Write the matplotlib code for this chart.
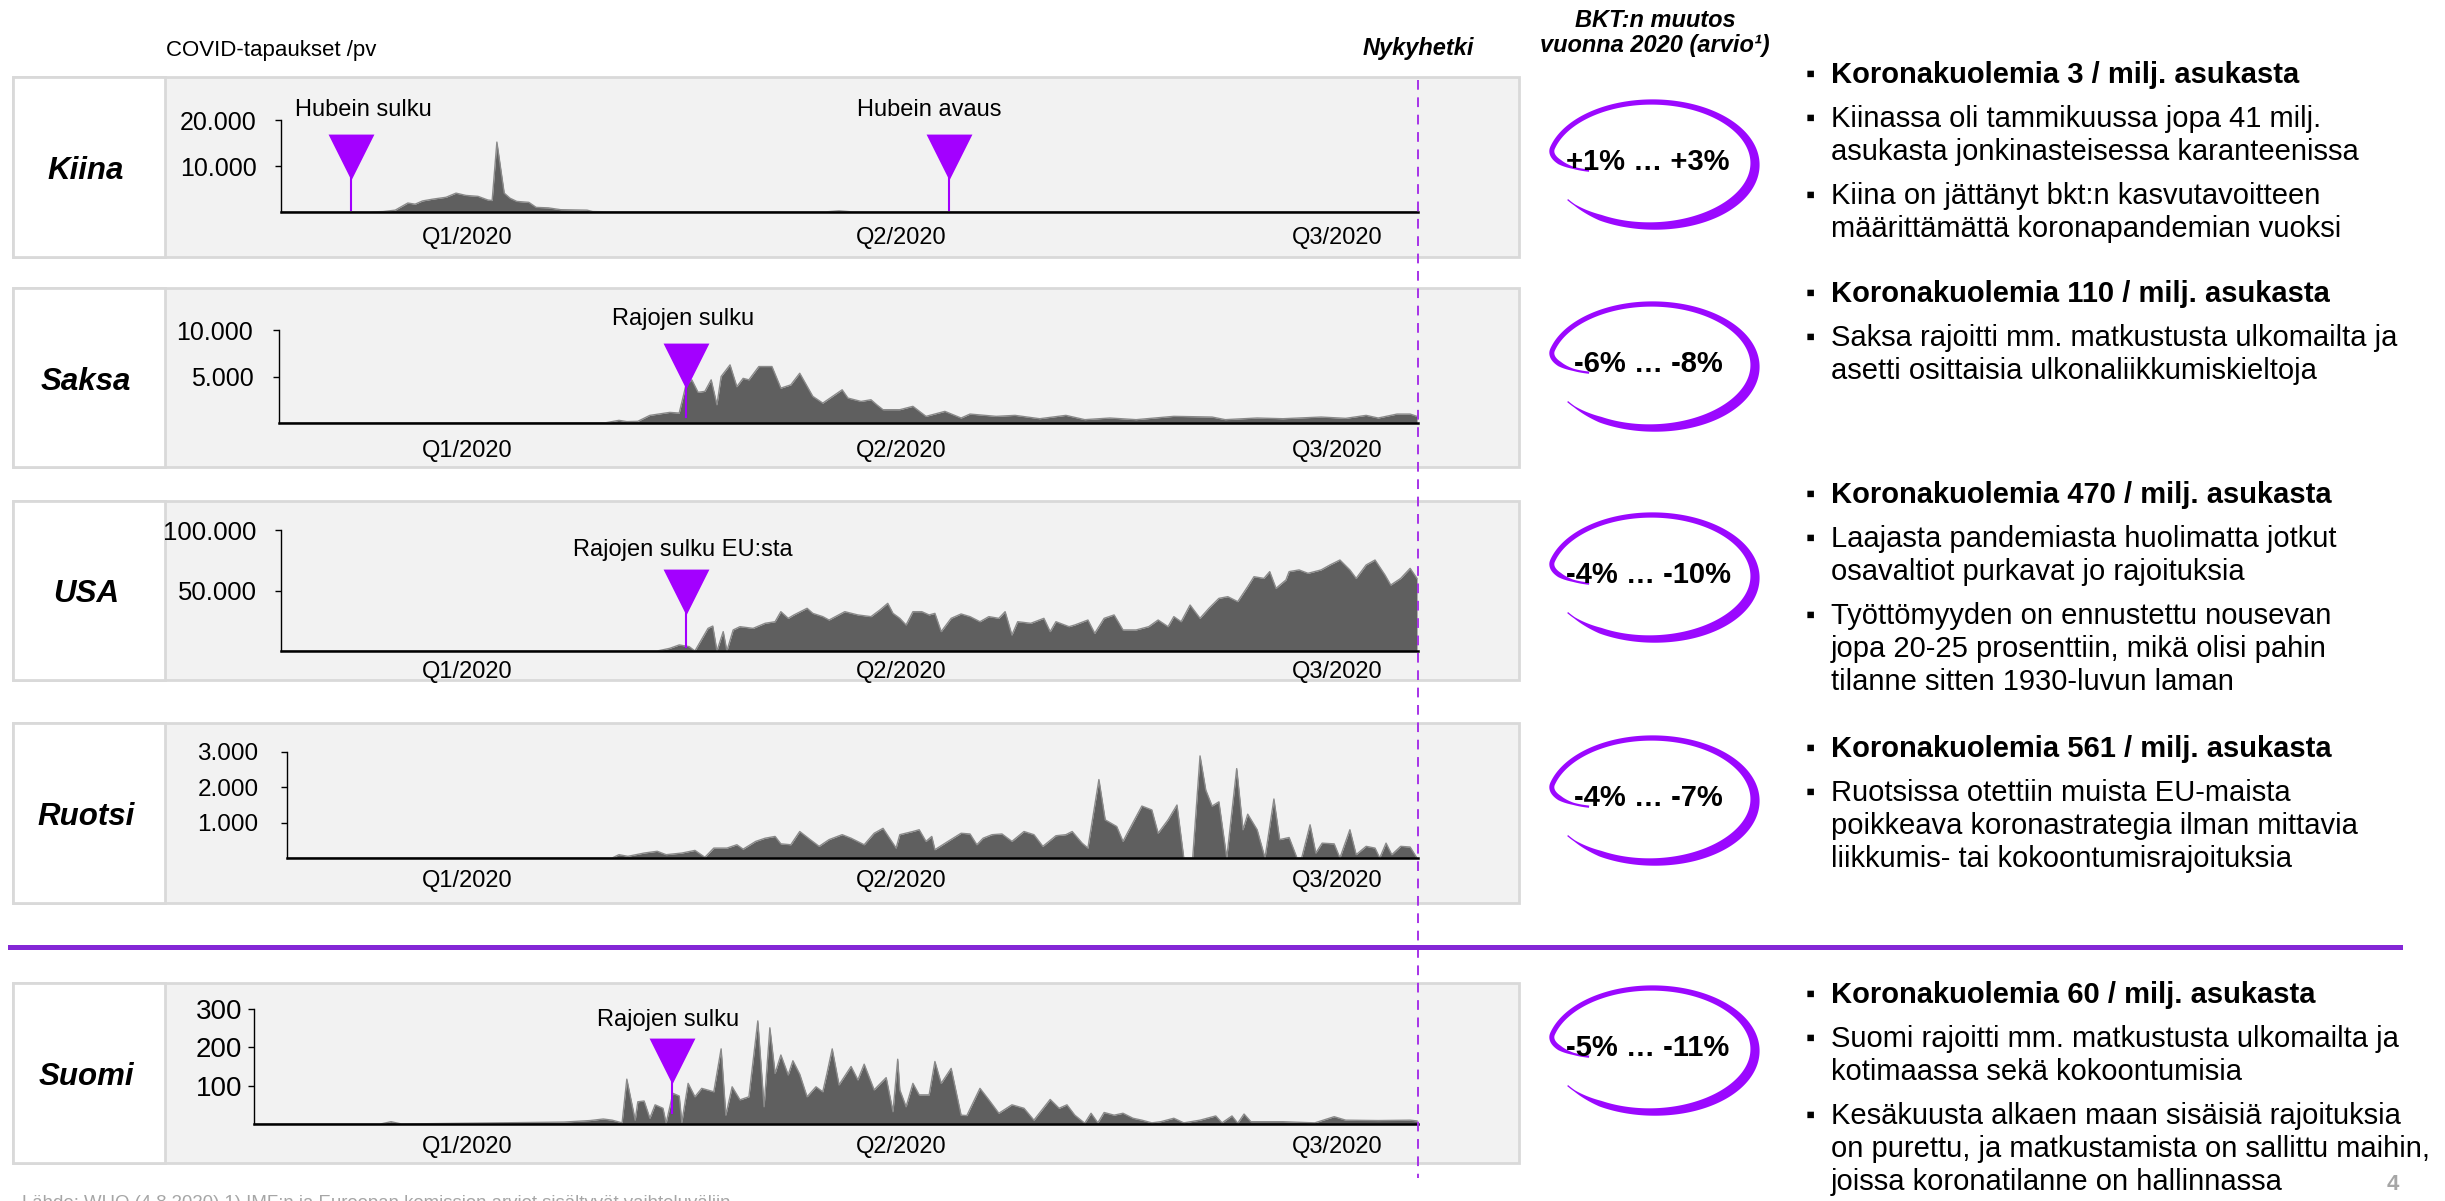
import numpy as np
import matplotlib
matplotlib.use("Agg")
import matplotlib.pyplot as plt
from matplotlib.patches import Rectangle, Polygon
from matplotlib.lines import Line2D
from matplotlib.path import Path
from matplotlib.ticker import FuncFormatter
from matplotlib.transforms import blended_transform_factory

plt.rcParams["font.family"] = ["Liberation Sans", "DejaVu Sans"]
plt.rcParams["lines.scale_dashes"] = False

# ── DATA ──────────────────────────────────────────────────────────────────────
# päivä = päiviä aikajanan alusta (217 = nykyhetki, 4.8.2020)
maat = ["Kiina", "Saksa", "USA", "Ruotsi", "Suomi"]

kiina_paiva = [0, 17, 19.5, 21.8, 24.2, 25.6, 27, 29, 31.5, 33.4, 35.3, 37.6, 39.5, 40.3,
               41.2, 42.6, 43.7, 45, 47.3, 48.7, 51, 53.4, 58.4, 59.5, 62, 104, 106.5, 109, 217]
kiina_tapaukset = [0, 0, 100, 400, 1950, 1700, 2400, 2800, 3200, 4100, 3600, 3400, 2600, 2500,
                   15200, 4100, 3000, 2300, 2100, 1000, 900, 500, 400, 100, 50, 30, 250, 30, 20]

saksa_paiva = [0, 62, 64.5, 66, 68.1, 70.4, 74.2, 76, 77.3, 78.4, 79.6, 80.9, 82.1, 83.2, 84,
               85.7, 87, 88.2, 89.3, 91.2, 93.7, 95.4, 97.3, 99, 101.5, 103.4, 107.1, 108.2,
               110.7, 112.6, 113.7, 114.9, 118.1, 120.6, 123.1, 126.7, 129.8, 131.5, 136.5,
               140.1, 144.8, 149.8, 153.4, 158.2, 163.2, 170.4, 177.7, 180.2, 186.3, 191.2,
               198.5, 203.2, 207.1, 209.4, 213, 215.5, 216.8]
saksa_tapaukset = [0, 30, 285, 150, 180, 820, 1140, 1070, 4100, 4640, 3300, 3400, 4640, 1960, 5000,
                   6250, 3900, 4800, 4640, 6070, 6070, 3750, 4100, 5350, 2860, 2140, 3570, 2680,
                   2320, 2500, 1960, 1430, 1430, 1790, 714, 1250, 535, 960, 714,
                   820, 460, 820, 360, 535, 360, 714, 640, 360, 535, 460,
                   640, 500, 820, 535, 960, 960, 714]

usa_paiva = [0, 71.8, 74.2, 76, 77.9, 79, 81.5, 82.4, 83.2, 84.4, 85.1, 86.3, 87.6, 90.1, 92.4,
             94.3, 95.4, 96.8, 97.9, 100.4, 101.5, 103.4, 104.6, 107.6, 110.1, 112.6, 114.3,
             115.8, 116.8, 118.1, 119.3, 120.6, 122.3, 123.7, 124.8, 126, 127.9, 129.8, 131.5,
             133.4, 135.1, 137, 138.2, 139.5, 140.6, 143.1, 145.6, 146.8, 147.9, 150.4, 151.5,
             154, 155.3, 157.1, 159, 160.7, 163.2, 165.6, 167.4, 169.3, 170.4, 171.8, 173.5,
             175.4, 177.1, 179, 180.7, 182.6, 184.5, 185.7, 187.6, 188.7, 189.9, 191.8, 192.4,
             194.3, 196, 198.5, 200.2, 202.1, 204, 205.2, 207.1, 208.8, 210.7, 211.8, 213.7,
             215.5, 216.8]
usa_tapaukset = [0, 0, 2200, 5000, 3600, 0, 18700, 20600, 0, 16000, 0, 17400, 20100, 18700, 22900,
                 24200, 32500, 27000, 29800, 35300, 31100, 28400, 25600, 32500, 29800, 28400, 33900,
                 39400, 31100, 27000, 21500, 32500, 32500, 29800, 31100, 16000, 27000, 30600, 28400,
                 24200, 28400, 27000, 32500, 13200, 24200, 22900, 27000, 16000, 24200, 20100, 21500,
                 25600, 14600, 27000, 29800, 17400, 17400, 20100, 25600, 20100, 28400, 24200, 38000,
                 27000, 35300, 43500, 44900, 40800, 53200, 61400, 60000, 65600, 51800, 58700, 65600,
                 67000, 64200, 67000, 71100, 75200, 67000, 60000, 71100, 75200, 62800, 54500, 60000,
                 68300, 60000]

ruotsi_paiva = [1.1, 63.2, 64.5, 66.2, 69.3, 71.8, 73.5, 76.5, 79, 80.9, 82.6, 85.1, 87, 88.2,
                90.6, 92.4, 94.3, 95.4, 97.3, 99, 101, 102.7, 104.6, 107.1, 108.8, 111.3, 113.2,
                114.9, 117.4, 118.1, 120.6, 121.8, 123.1, 124.2, 124.8, 127.3, 129.8, 131.5,
                132.8, 134, 135.7, 137.6, 139.5, 141.8, 143.7, 145.4, 147.9, 149.8, 151, 152.9,
                154, 156.1, 157.3, 159.5, 160.7, 162.2, 164.3, 166.2, 167.4, 169.3, 171, 172.3,
                174, 175.4, 176.5, 177.7, 179, 180.5, 182.4, 183.6, 184.5, 186.3, 187.8, 189.5,
                190.6, 192.4, 193.9, 194.8, 196.4, 197.5, 198.7, 201, 202.1, 204, 205.2, 207.1,
                208.8, 209.7, 210.9, 212, 213.7, 215.5, 216.8]
ruotsi_tapaukset = [0, 0, 94, 47, 140, 190, 94, 140, 215, 20, 280, 280, 375, 250,
                    470, 560, 610, 400, 375, 750, 520, 330, 520, 660, 560, 375, 700,
                    840, 280, 660, 750, 800, 470, 610, 235, 470, 700, 680,
                    375, 560, 660, 680, 470, 750, 660, 330, 630, 660, 750, 420,
                    280, 2220, 1080, 890, 470, 890, 1470, 1360, 700, 1080, 1500, 0,
                    0, 2890, 1920, 1470, 1590, 0, 2530, 800, 1240, 800, 0, 1670,
                    520, 580, 0, 0, 940, 140, 420, 400, 0, 800, 94, 330,
                    280, 0, 420, 94, 330, 310, 0]

suomi_paiva = [-5.2, 19, 21, 23, 54, 59, 61.5, 63.2, 65.1, 66, 67.6, 68.1, 69.3, 70.4, 71.4,
               72.9, 73.5, 74.8, 76, 76.5, 77.7, 79, 80.3, 82.6, 84, 84.9, 86.1, 87.6, 89.3, 91,
               92.2, 93.3, 94.3, 95.4, 96.8, 97.7, 99, 100.4, 102.1, 103.4, 104.2, 105.2, 106.5,
               108.8, 110.1, 111.3, 113.2, 115.5, 116.8, 117.7, 118.1, 119.3, 120.6, 121.8,
               123.7, 124.8, 126, 127.9, 129.8, 130.9, 133.4, 135.1, 137, 139.5, 141.8, 143.7,
               146.8, 148.5, 150, 151.5, 153.4, 154.6, 155.9, 157.1, 159, 160.7, 162.6, 164.3,
               166.2, 167.9, 170.4, 172.3, 175.4, 178.4, 179.6, 181.5, 182.6, 183.8, 185.1,
               191.2, 197.3, 201, 203.2, 209.4, 215.5, 216.8]
suomi_tapaukset = [0, 0, 6, 0, 5, 9, 13, 10, 3, 117, 10, 58, 60, 15, 50,
                   41, 2, 80, 73, 4, 106, 71, 93, 84, 196, 23, 97, 63, 71, 269,
                   45, 251, 132, 180, 128, 165, 130, 71, 97, 84, 132, 196, 102,
                   150, 115, 156, 89, 121, 32, 169, 89, 45, 106, 76,
                   76, 163, 106, 145, 23, 22, 93, 63, 28, 50, 41, 10,
                   64, 41, 50, 23, 2, 28, 3, 30, 23, 28, 15, 10,
                   3, 6, 15, 3, 10, 21, 3, 21, 2, 26, 6,
                   6, 3, 19, 10, 9, 10, 8]

y_max = [20000, 10000, 100000, 3000, 300]
y_ticks = [[10000, 20000], [5000, 10000], [50000, 100000], [1000, 2000, 3000], [100, 200, 300]]

# vuosineljännesten nimiöt aikajanalla (päivää alusta)
q_paiva = [35.5, 118.3, 201.5]
q_nimi = ["Q1/2020", "Q2/2020", "Q3/2020"]

tapahtumat = [
    [(13.4, "Hubein sulku"), (127.5, "Hubein avaus")],
    [(77.3, "Rajojen sulku")],
    [(77.3, "Rajojen sulku EU:sta")],
    [],
    [(74.6, "Rajojen sulku")],
]

bkt_muutos = ["+1% … +3%", "-6% … -8%", "-4% … -10%", "-4% … -7%", "-5% … -11%"]
kuolemat = [3, 110, 470, 561, 60]

huomiot = [
    [["Kiinassa oli tammikuussa jopa 41 milj.", "asukasta jonkinasteisessa karanteenissa"],
     ["Kiina on jättänyt bkt:n kasvutavoitteen", "määrittämättä koronapandemian vuoksi"]],
    [["Saksa rajoitti mm. matkustusta ulkomailta ja", "asetti osittaisia ulkonaliikkumiskieltoja"]],
    [["Laajasta pandemiasta huolimatta jotkut", "osavaltiot purkavat jo rajoituksia"],
     ["Työttömyyden on ennustettu nousevan", "jopa 20-25 prosenttiin, mikä olisi pahin",
      "tilanne sitten 1930-luvun laman"]],
    [["Ruotsissa otettiin muista EU-maista", "poikkeava koronastrategia ilman mittavia",
      "liikkumis- tai kokoontumisrajoituksia"]],
    [["Suomi rajoitti mm. matkustusta ulkomailta ja", "kotimaassa sekä kokoontumisia"],
     ["Kesäkuusta alkaen maan sisäisiä rajoituksia", "on purettu, ja matkustamista on sallittu maihin,",
      "joissa koronatilanne on hallinnassa"]],
]

paivat = [kiina_paiva, saksa_paiva, usa_paiva, ruotsi_paiva, suomi_paiva]
tapaukset = [kiina_tapaukset, saksa_tapaukset, usa_tapaukset, ruotsi_tapaukset, suomi_tapaukset]

# ── LAYOUT (pixels on the 2445 x 1201 canvas) ────────────────────────────────
W, H = 2445, 1201
X0, X_END, DAY_END = 281, 1418, 217
PX_PER_DAY = (X_END - X0) / DAY_END

PANELS = [
    dict(box=(77, 257), left=281, top=120, base=212, ypad=13, ysize=18, xpad=11,
         tri=134, stem=210, lab=110, lab_dx=[12, -20], ring=164, text=73),
    dict(box=(288, 467), left=279, top=330, base=423, ypad=14, ysize=18, xpad=12,
         tri=343, stem=417, lab=319, lab_dx=[-3], ring=366, text=292),
    dict(box=(501, 680), left=281, top=530, base=651, ypad=13, ysize=18.5, xpad=7,
         tri=569, stem=647, lab=550, lab_dx=[-3], ring=577, text=493),
    dict(box=(723, 903), left=287, top=752, base=858, ypad=16, ysize=17.5, xpad=9,
         tri=None, stem=None, lab=None, lab_dx=[], ring=800, text=747),
    dict(box=(983, 1163), left=254, top=1009, base=1124, ypad=4, ysize=20, xpad=9,
         tri=1038, stem=1113, lab=1020, lab_dx=[-4], ring=1050, text=993),
]

VIOLET = "#a300ff"
RING = "#9b08ff"
DASH = "#a633e8"
SEPARATOR = "#8427d6"
FILL = "#5f5f5f"
EDGE = "#8a8a8a"
BOX = "#f2f2f2"
BORDER = "#d9d9d9"


def fx(x):
    return x / W


def fy(y):
    return 1 - y / H


def brush_ring(cx, cy, a=103, b=62):
    """Hand-drawn looking ring: open at lower left, hooking inward at the left end."""
    deg = np.linspace(215, 550, 420)
    t = np.radians(deg)
    r = np.where(deg < 525, 1.0, 1 - 0.38 * ((deg - 525) / 25) ** 2)
    x = cx + a * r * np.cos(t)
    y = cy - b * r * np.sin(t)
    w = 5 + 5 * np.exp(-((deg - 330) / 70) ** 2)
    w *= np.clip((deg - 215) / 25, 0.25, 1) * np.clip((550 - deg) / 12, 0.45, 1)
    dx, dy = np.gradient(x), np.gradient(y)
    n = np.hypot(dx, dy)
    nx, ny = -dy / n, dx / n
    outer = np.c_[x + nx * w / 2, y + ny * w / 2]
    inner = np.c_[x - nx * w / 2, y - ny * w / 2]
    pts = np.vstack([outer, inner[::-1]])
    return Polygon(np.c_[fx(pts[:, 0]), fy(pts[:, 1])], closed=True,
                   transform=fig.transFigure, facecolor=RING, edgecolor="none", zorder=3)


TRIANGLE = Path([(-0.5, 0.5), (0.5, 0.5), (0, -0.5), (-0.5, 0.5)],
                [Path.MOVETO, Path.LINETO, Path.LINETO, Path.CLOSEPOLY])
thousands = FuncFormatter(lambda v, p: f"{int(v):,}".replace(",", "."))

fig = plt.figure(figsize=(W / 100, H / 100), dpi=100)

# ── headers ──
fig.text(fx(166), fy(56), "COVID-tapaukset /pv", fontsize=16, va="baseline")
fig.text(fx(1418), fy(55), "Nykyhetki", fontsize=17, weight="bold", style="italic",
         ha="center", va="baseline")
fig.text(fx(1655), fy(27), "BKT:n muutos", fontsize=17, weight="bold", style="italic",
         ha="center", va="baseline")
fig.text(fx(1655), fy(52), "vuonna 2020 (arvio¹)", fontsize=17, weight="bold", style="italic",
         ha="center", va="baseline")

for i, (maa, p) in enumerate(zip(maat, PANELS)):
    top, bottom = p["box"]
    fig.patches.append(Rectangle((fx(13), fy(bottom)), fx(1519 - 13), (bottom - top) / H,
                                 transform=fig.transFigure, facecolor=BOX, edgecolor=BORDER,
                                 lw=2, zorder=-10))
    fig.patches.append(Rectangle((fx(13), fy(bottom)), fx(165 - 13), (bottom - top) / H,
                                 transform=fig.transFigure, facecolor="white", edgecolor=BORDER,
                                 lw=2, zorder=-9))
    fig.text(fx(86), fy((top + bottom) / 2 + 4), maa, fontsize=22.5, weight="bold",
             style="italic", ha="center", va="center")

    # daily cases
    ax = fig.add_axes([fx(p["left"]), fy(p["base"]), (X_END - p["left"]) / W,
                       (p["base"] - p["top"]) / H])
    ax.patch.set_alpha(0)
    ax.fill_between(paivat[i], tapaukset[i], color=FILL, lw=0, zorder=2)
    ax.plot(paivat[i], tapaukset[i], color=EDGE, lw=1.0, zorder=2.1)
    ax.set_xlim((p["left"] - X0) / PX_PER_DAY, DAY_END)
    ax.set_ylim(0, y_max[i])
    ax.set_yticks(y_ticks[i])
    ax.yaxis.set_major_formatter(thousands)
    ax.set_xticks(q_paiva, q_nimi)
    for s in ("top", "right"):
        ax.spines[s].set_visible(False)
    ax.spines["left"].set_linewidth(1.0)
    ax.spines["bottom"].set_linewidth(1.8)
    ax.spines["bottom"].set_zorder(3)
    ax.tick_params(axis="y", length=4.5, width=1.0, pad=p["ypad"], labelsize=p["ysize"])
    ax.tick_params(axis="x", length=0, pad=p["xpad"], labelsize=17)

    # events: violet pin with a label above
    h = p["base"] - p["top"]
    frac = lambda py: (p["base"] - py) / h
    tr = blended_transform_factory(ax.transData, ax.transAxes)
    for (paiva, nimi), dx in zip(tapahtumat[i], p["lab_dx"]):
        ax.plot([paiva, paiva], [frac(p["stem"]), frac(p["tri"] + 40)], color=VIOLET, lw=1.5,
                transform=tr, clip_on=False, zorder=4)
        ax.plot([paiva], [frac(p["tri"] + 23)], marker=TRIANGLE, ms=33, color=VIOLET,
                mec="none", transform=tr, clip_on=False, zorder=4)
        ax.text(paiva + dx / PX_PER_DAY, frac(p["lab"]), nimi, fontsize=17, ha="center",
                va="center", transform=tr)

    # GDP estimate in a hand-drawn ring
    fig.patches.append(brush_ring(1652, p["ring"]))
    fig.text(fx(1648), fy(p["ring"] - 2), bkt_muutos[i], fontsize=21, weight="bold",
             ha="center", va="center")

    # bullet notes
    y = p["text"]
    rivit = [(True, [f"Koronakuolemia {kuolemat[i]} / milj. asukasta"])]
    rivit += [(False, r) for r in huomiot[i]]
    for lihava, lines in rivit:
        fig.text(fx(1810), fy(y + 9), "▪", fontsize=19, ha="center", va="baseline")
        for line in lines:
            fig.text(fx(1831), fy(y + 10), line, fontsize=21,
                     weight="bold" if lihava else "normal", va="baseline")
            y += 33
        y += 11

# "now" marker and the separator above Finland
fig.lines.append(Line2D([fx(1418)] * 2, [fy(80), fy(1178)], transform=fig.transFigure,
                        color=DASH, lw=1.4, dashes=(7, 5.5), zorder=5))
fig.lines.append(Line2D([fx(10), fx(2400)], [fy(947)] * 2, transform=fig.transFigure,
                        color=SEPARATOR, lw=3.6, zorder=5))

fig.text(fx(22), fy(1208), "Lähde: WHO (4.8.2020) 1) IMF:n ja Euroopan komission arviot "
         "sisältyvät vaihteluväliin", fontsize=13.4, color="#a6a6a6", va="baseline")
fig.text(fx(2393), fy(1185), "4", fontsize=16, weight="bold", color="#a6a6a6",
         ha="center", va="center")

fig.savefig("out.png", dpi=100)
